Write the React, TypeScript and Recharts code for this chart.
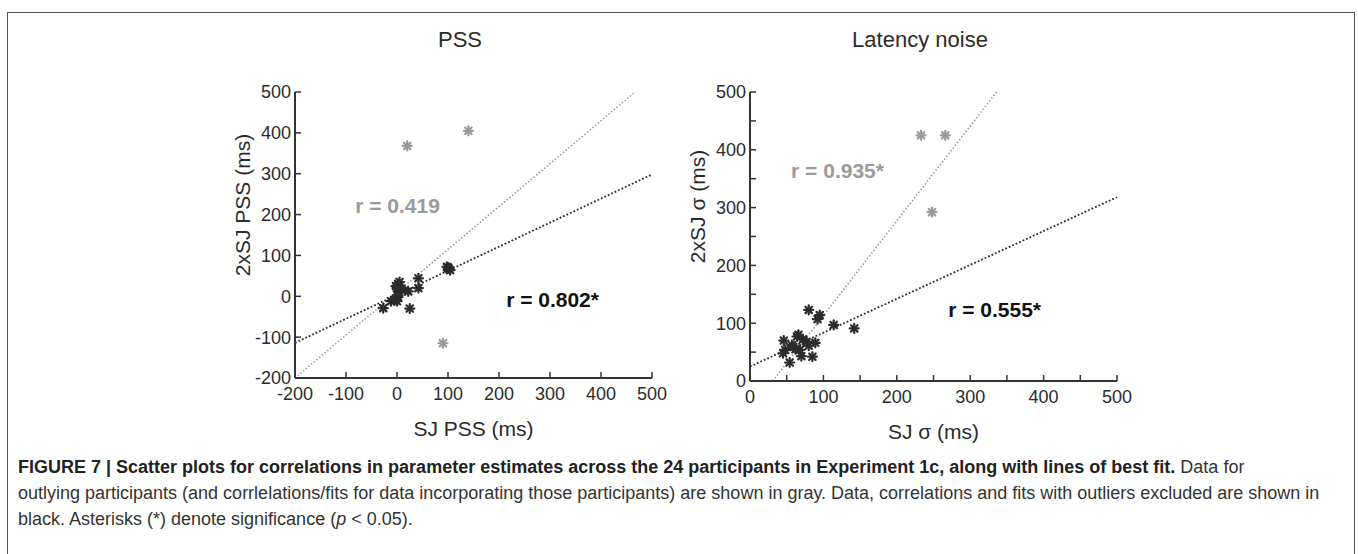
import React from 'react';
import { ScatterChart, Scatter, XAxis, YAxis, ReferenceLine, ReferenceDot } from 'recharts';

const FONT = '"Liberation Sans", Arial, Helvetica, sans-serif';
const INK = '#2b2b2b';
const GRAY = '#9a9a9a';

// PSS panel (ms): participants kept in the fit
const pssCore = [
  { x: -27, y: -29 }, { x: -12, y: -12 }, { x: -5, y: -10 }, { x: -2, y: -5 },
  { x: 0, y: -12 }, { x: 2, y: -2 }, { x: 4, y: 10 }, { x: -2, y: 25 },
  { x: 2, y: 30 }, { x: 5, y: 35 }, { x: 0, y: 20 }, { x: 8, y: 18 },
  { x: 15, y: 15 }, { x: 22, y: 12 }, { x: 25, y: -30 }, { x: 42, y: 44 },
  { x: 42, y: 20 }, { x: 98, y: 72 }, { x: 101, y: 68 }, { x: 104, y: 64 },
  { x: 100, y: 70 },
];
// PSS panel: outlying participants
const pssOutliers = [{ x: 20, y: 368 }, { x: 140, y: 405 }, { x: 90, y: -115 }];
const pssTicks = [-200, -100, 0, 100, 200, 300, 400, 500];
const pssFitCore = [{ x: -200, y: -114 }, { x: 500, y: 298 }];
const pssFitAll = [{ x: -200, y: -200 }, { x: 467, y: 500 }];

// Latency noise panel (sigma, ms)
const sigmaCore = [
  { x: 46, y: 70 }, { x: 48, y: 54 }, { x: 45, y: 48 }, { x: 54, y: 32 },
  { x: 59, y: 59 }, { x: 64, y: 77 }, { x: 66, y: 80 }, { x: 62, y: 55 },
  { x: 68, y: 54 }, { x: 70, y: 43 }, { x: 77, y: 68 }, { x: 80, y: 61 },
  { x: 80, y: 123 }, { x: 85, y: 42 }, { x: 89, y: 66 }, { x: 92, y: 107 },
  { x: 95, y: 114 }, { x: 114, y: 97 }, { x: 142, y: 91 }, { x: 57, y: 62 },
  { x: 72, y: 72 },
];
const sigmaOutliers = [{ x: 233, y: 425 }, { x: 266, y: 425 }, { x: 248, y: 292 }];
const sigmaTicks = [0, 50, 100, 150, 200, 250, 300, 350, 400, 450, 500];
const sigmaFitCore = [{ x: 0, y: 25 }, { x: 500, y: 318 }];
const sigmaFitAll = [{ x: 31, y: 0 }, { x: 336, y: 500 }];

const Asterisk = (props: any) => {
  const { cx, cy, fill } = props;
  if (cx == null || cy == null) return null;
  const r = 4.5;
  const d = r * 0.72;
  return (
    <g stroke={fill} strokeWidth={2.2} strokeLinecap="round">
      <line x1={cx - r} y1={cy} x2={cx + r} y2={cy} />
      <line x1={cx} y1={cy - r} x2={cx} y2={cy + r} />
      <line x1={cx - d} y1={cy - d} x2={cx + d} y2={cy + d} />
      <line x1={cx - d} y1={cy + d} x2={cx + d} y2={cy - d} />
    </g>
  );
};

const YTitle = (props: any) => {
  const vb = props.viewBox || { x: 0, y: 0, width: 0, height: 0 };
  const x = vb.x + 17;
  const y = vb.y + vb.height / 2 - 30;
  return (
    <text x={x} y={y} transform={`rotate(-90 ${x} ${y})`} textAnchor="middle"
      dominantBaseline="central" fontSize={21} fill={INK} fontFamily={FONT}>
      {props.value}
    </text>
  );
};

const XTitle = (props: any) => {
  const vb = props.viewBox || { x: 0, y: 0, width: 0, height: 0 };
  return (
    <text x={vb.x + vb.width / 2} y={vb.y + 50} textAnchor="middle"
      dominantBaseline="central" fontSize={21} fill={INK} fontFamily={FONT}>
      {props.value}
    </text>
  );
};

const rText = (value: string, color: string) => (props: any) => (
  <text x={props.cx} y={props.cy} dominantBaseline="central" fontSize={21}
    fontWeight="bold" fill={color} fontFamily={FONT}>
    {value}
  </text>
);

const tickStyle = { fontSize: 18, fill: INK, fontFamily: FONT };

interface PanelProps {
  left: number;
  width: number;
  height: number;
  core: { x: number; y: number }[];
  outliers: { x: number; y: number }[];
  xTicks: number[];
  yTicks: number[];
  domainX: [number, number];
  domainY: [number, number];
  fitCore: { x: number; y: number }[];
  fitAll: { x: number; y: number }[];
  xTitle: string;
  yTitle: string;
  allLabel: { x: number; y: number; text: string };
  coreLabel: { x: number; y: number; text: string };
  labelEvery: number;
}

const Panel = (p: PanelProps) => {
  const fmt = (v: number) => (v % p.labelEvery === 0 ? String(v) : '');
  return (
    <div style={{ position: 'absolute', left: p.left, top: 72 }}>
      <ScatterChart width={p.width} height={p.height} margin={{ top: 20, right: 20, left: 0, bottom: 0 }}>
        <XAxis type="number" dataKey="x" domain={p.domainX} ticks={p.xTicks} allowDataOverflow
          height={72} tickSize={-6} tickMargin={15} tickFormatter={fmt} tick={tickStyle}
          axisLine={{ stroke: '#333', strokeWidth: 2 }} tickLine={{ stroke: '#333', strokeWidth: 1.5 }}
          label={<XTitle value={p.xTitle} />} />
        <YAxis type="number" dataKey="y" domain={p.domainY} ticks={p.yTicks} allowDataOverflow
          width={70} tickSize={-6} tickMargin={10} tickFormatter={fmt} tick={tickStyle}
          axisLine={{ stroke: '#333', strokeWidth: 2 }} tickLine={{ stroke: '#333', strokeWidth: 1.5 }}
          label={<YTitle value={p.yTitle} />} />
        <ReferenceLine segment={p.fitAll} stroke={GRAY} strokeWidth={1.6} strokeDasharray="1.5 2" ifOverflow="visible" />
        <ReferenceLine segment={p.fitCore} stroke={INK} strokeWidth={1.8} strokeDasharray="1.8 2" ifOverflow="visible" />
        <Scatter data={p.outliers} fill={GRAY} shape={Asterisk} isAnimationActive={false} />
        <Scatter data={p.core} fill={INK} shape={Asterisk} isAnimationActive={false} />
        <ReferenceDot x={p.allLabel.x} y={p.allLabel.y} r={0} shape={rText(p.allLabel.text, GRAY)} ifOverflow="visible" />
        <ReferenceDot x={p.coreLabel.x} y={p.coreLabel.y} r={0} shape={rText(p.coreLabel.text, '#111')} ifOverflow="visible" />
      </ScatterChart>
    </div>
  );
};

const titleStyle: React.CSSProperties = {
  position: 'absolute', top: 27, fontSize: 22, color: INK, fontFamily: FONT,
  transform: 'translateX(-50%)', whiteSpace: 'nowrap',
};

const capLine: React.CSSProperties = {
  position: 'absolute', left: 18, fontSize: 18, color: '#333', fontFamily: FONT, whiteSpace: 'nowrap',
};

export default function App() {
  return (
    <div style={{ position: 'absolute', left: 0, top: 0, width: 1358, height: 554, background: '#fff', overflow: 'hidden' }}>
      <div style={{ position: 'absolute', left: 7, top: 12, width: 1346, height: 600, border: '1.5px solid #555', borderBottom: 'none' }} />
      <div style={{ ...titleStyle, left: 460 }}>PSS</div>
      <div style={{ ...titleStyle, left: 920 }}>Latency noise</div>
      <Panel left={225} width={447} height={378} core={pssCore} outliers={pssOutliers}
        xTicks={pssTicks} yTicks={pssTicks} domainX={[-200, 500]} domainY={[-200, 500]}
        fitCore={pssFitCore} fitAll={pssFitAll} xTitle="SJ PSS (ms)" yTitle="2xSJ PSS (ms)"
        allLabel={{ x: -82, y: 223, text: 'r = 0.419' }} coreLabel={{ x: 214, y: -9, text: 'r = 0.802*' }}
        labelEvery={100} />
      <Panel left={680} width={457} height={381} core={sigmaCore} outliers={sigmaOutliers}
        xTicks={sigmaTicks} yTicks={sigmaTicks} domainX={[0, 500]} domainY={[0, 500]}
        fitCore={sigmaFitCore} fitAll={sigmaFitAll} xTitle="SJ σ (ms)" yTitle="2xSJ σ (ms)"
        allLabel={{ x: 56, y: 365, text: 'r = 0.935*' }} coreLabel={{ x: 270, y: 123, text: 'r = 0.555*' }}
        labelEvery={100} />
      <div style={{ ...capLine, top: 457 }}>
        <b style={{ color: '#222' }}>FIGURE 7 | Scatter plots for correlations in parameter estimates across the 24 participants in Experiment 1c, along with lines of best fit.</b> Data for
      </div>
      <div style={{ ...capLine, top: 483 }}>
        outlying participants (and corrlelations/fits for data incorporating those participants) are shown in gray. Data, correlations and fits with outliers excluded are shown in
      </div>
      <div style={{ ...capLine, top: 509 }}>
        black. Asterisks (*) denote significance (<i>p</i> &lt; 0.05).
      </div>
    </div>
  );
}
